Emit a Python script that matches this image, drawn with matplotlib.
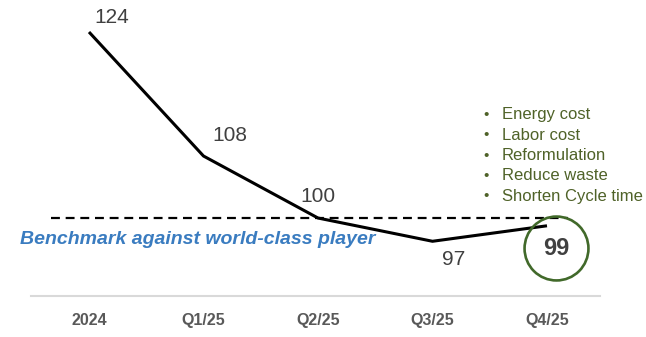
import numpy as np
import matplotlib
matplotlib.use("Agg")
import matplotlib.pyplot as plt

plt.rcParams['font.family'] = ['Liberation Sans', 'DejaVu Sans']

# Data
periods = ["2024", "Q1/25", "Q2/25", "Q3/25", "Q4/25"]
values = [124, 108, 100, 97, 99]
benchmark = 100
benchmark_label = "Benchmark against world-class player"
levers = ["Energy cost", "Labor cost", "Reformulation", "Reduce waste", "Shorten Cycle time"]

x = np.arange(len(periods))

fig = plt.figure(figsize=(6.46, 3.37), dpi=100)
ax = fig.add_axes([31 / 646, 41 / 337, 569 / 646, 296 / 337])

# main line
ax.plot(x, values, color="black", lw=2.2, solid_capstyle="butt", zorder=3)

# benchmark dashed line
ax.hlines(benchmark, -0.33, 4.18, colors="black", linestyles=(0, (4, 2.6)), lw=1.6, zorder=2)
ax.text(-0.603, 97.2, benchmark_label, color="#3a7cc0", fontsize=14,
        fontweight="bold", fontstyle="italic", ha="left", va="center")

# value labels
offsets = [(16.6, 10.4), (18.7, 15.1), (0, 15.8), (15, -13)]
for xi, v, off in zip(x[:-1], values[:-1], offsets):
    ax.annotate(str(v), (xi, v), xytext=off, textcoords="offset points",
                ha="center", va="center", fontsize=15, color="#404040")

# last value circled
ax.annotate(str(values[-1]), (x[-1], values[-1]), xytext=(6.5, -16.5), textcoords="offset points",
            ha="center", va="center", fontsize=17, fontweight="bold", color="#404040")
circ_x = x[-1] + 9 / 114.5
circ_y = values[-1] - 22 / 7.75
ax.plot([circ_x], [circ_y], marker="o", markersize=46, markerfacecolor="none",
        markeredgecolor="#41692a", markeredgewidth=1.9, zorder=4)

# lever bullets
for i, lev in enumerate(levers):
    yy = 113.3 - i * 2.62
    ax.text(3.467, yy, "\u2022", fontsize=11, color="#4f6228", ha="center", va="center")
    ax.text(3.607, yy, lev, fontsize=12, color="#4f6228", ha="left", va="center")

ax.set_xlim(-0.5066, 4.463)
ax.set_ylim(89.94, 128.13)
ax.set_xticks(x)
ax.set_xticklabels(periods, fontsize=11.5, fontweight="bold", color="#595959")
ax.tick_params(axis="x", length=0, pad=12)
ax.set_yticks([])
for s in ["top", "left", "right"]:
    ax.spines[s].set_visible(False)
ax.spines["bottom"].set_color("#d9d9d9")
ax.spines["bottom"].set_linewidth(1.5)
ax.patch.set_alpha(0)

fig.savefig("out.png", dpi=100)
